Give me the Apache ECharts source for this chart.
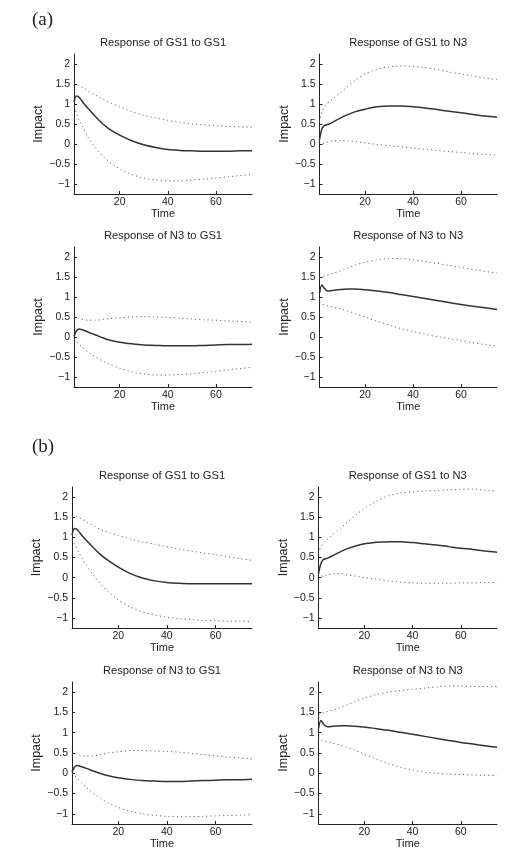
<!DOCTYPE html>
<html>
<head>
<meta charset="utf-8">
<script src="https://cdn.jsdelivr.net/npm/echarts@6/dist/echarts.min.js"></script>
<style>
  html, body { margin: 0; padding: 0; background: #fff; }
  #chart { width: 507px; height: 865px; }
</style>
</head>
<body>
<div id="chart"></div>
<script>
var time = [1, 2, 3, 4, 5, 7, 10, 13, 16, 20, 25, 30, 35, 40, 45, 50, 55, 60, 65, 70, 75];
var xTicks = [20, 40, 60];
var yTicks = [-1, -0.5, 0, 0.5, 1, 1.5, 2];

var panelTitles = [
  'Response of GS1 to GS1', 'Response of GS1 to N3',
  'Response of N3 to GS1', 'Response of N3 to N3',
  'Response of GS1 to GS1', 'Response of GS1 to N3',
  'Response of N3 to GS1', 'Response of N3 to N3'
];

// (a)
var aGG = [1.05, 1.2, 1.17, 1.1, 1.02, 0.88, 0.68, 0.5, 0.36, 0.22, 0.08, -0.02, -0.09, -0.14, -0.16, -0.17, -0.18, -0.18, -0.18, -0.17, -0.17];
var aGGup = [1.52, 1.5, 1.46, 1.43, 1.4, 1.32, 1.22, 1.12, 1.03, 0.93, 0.81, 0.72, 0.65, 0.59, 0.54, 0.5, 0.48, 0.46, 0.44, 0.43, 0.42];
var aGGlo = [0.93, 0.78, 0.62, 0.5, 0.38, 0.15, -0.1, -0.3, -0.46, -0.62, -0.76, -0.85, -0.9, -0.92, -0.92, -0.9, -0.88, -0.85, -0.82, -0.79, -0.76];

var aGN = [0.1, 0.38, 0.46, 0.48, 0.5, 0.56, 0.66, 0.74, 0.81, 0.87, 0.93, 0.95, 0.95, 0.93, 0.9, 0.86, 0.82, 0.78, 0.74, 0.7, 0.67];
var aGNup = [0.55, 0.8, 0.92, 1.0, 1.05, 1.15, 1.3, 1.45, 1.6, 1.75, 1.87, 1.93, 1.95, 1.94, 1.91, 1.86, 1.8, 1.75, 1.7, 1.65, 1.61];
var aGNlo = [0.08, 0.02, 0.02, 0.04, 0.06, 0.08, 0.09, 0.08, 0.06, 0.03, -0.01, -0.04, -0.07, -0.1, -0.13, -0.16, -0.19, -0.21, -0.24, -0.26, -0.28];

var aNG = [0.02, 0.15, 0.2, 0.19, 0.17, 0.12, 0.05, -0.02, -0.08, -0.13, -0.17, -0.2, -0.21, -0.22, -0.22, -0.22, -0.21, -0.2, -0.19, -0.19, -0.18];
var aNGup = [0.52, 0.5, 0.47, 0.45, 0.43, 0.42, 0.42, 0.44, 0.46, 0.48, 0.5, 0.51, 0.5, 0.49, 0.47, 0.45, 0.43, 0.42, 0.4, 0.39, 0.37];
var aNGlo = [-0.05, -0.1, -0.17, -0.23, -0.28, -0.38, -0.5, -0.6, -0.69, -0.78, -0.87, -0.92, -0.95, -0.95, -0.94, -0.92, -0.89, -0.86, -0.82, -0.79, -0.76];

var aNN = [1.1, 1.3, 1.22, 1.16, 1.15, 1.17, 1.19, 1.2, 1.2, 1.18, 1.15, 1.11, 1.06, 1.01, 0.96, 0.91, 0.86, 0.81, 0.77, 0.73, 0.69];
var aNNup = [1.48, 1.5, 1.52, 1.54, 1.56, 1.6, 1.66, 1.73, 1.8, 1.87, 1.93, 1.96, 1.96, 1.93, 1.89, 1.84, 1.79, 1.74, 1.69, 1.64, 1.6];
var aNNlo = [0.88, 0.82, 0.8, 0.78, 0.77, 0.74, 0.7, 0.65, 0.58, 0.5, 0.39, 0.3, 0.21, 0.14, 0.07, 0.01, -0.04, -0.09, -0.14, -0.19, -0.23];

// (b)
var bGG = [1.05, 1.22, 1.2, 1.13, 1.05, 0.92, 0.73, 0.56, 0.42, 0.26, 0.1, -0.01, -0.08, -0.12, -0.14, -0.15, -0.15, -0.15, -0.15, -0.15, -0.15];
var bGGup = [1.5, 1.53, 1.52, 1.49, 1.45, 1.38, 1.28, 1.19, 1.12, 1.05, 0.96, 0.89, 0.83, 0.77, 0.71, 0.66, 0.61, 0.57, 0.52, 0.47, 0.43];
var bGGlo = [0.95, 0.85, 0.72, 0.6, 0.5, 0.3, 0.05, -0.17, -0.35, -0.55, -0.73, -0.85, -0.93, -0.98, -1.02, -1.04, -1.06, -1.07, -1.08, -1.08, -1.09];

var bGN = [0.1, 0.35, 0.45, 0.47, 0.49, 0.55, 0.64, 0.72, 0.78, 0.84, 0.88, 0.89, 0.89, 0.87, 0.84, 0.81, 0.77, 0.73, 0.7, 0.66, 0.63];
var bGNup = [0.6, 0.78, 0.86, 0.92, 0.97, 1.07, 1.22, 1.38, 1.53, 1.72, 1.9, 2.03, 2.1, 2.13, 2.15, 2.16, 2.18, 2.19, 2.2, 2.17, 2.14];
var bGNlo = [0.12, 0.05, 0.03, 0.05, 0.07, 0.1, 0.1, 0.07, 0.04, 0.0, -0.04, -0.08, -0.11, -0.13, -0.14, -0.14, -0.14, -0.13, -0.13, -0.12, -0.12];

var bNG = [0.03, 0.15, 0.19, 0.18, 0.16, 0.12, 0.05, -0.01, -0.06, -0.11, -0.15, -0.18, -0.19, -0.2, -0.2, -0.19, -0.18, -0.17, -0.16, -0.16, -0.15];
var bNGup = [0.45, 0.5, 0.48, 0.45, 0.43, 0.42, 0.43, 0.46, 0.5, 0.53, 0.56, 0.56, 0.55, 0.54, 0.52, 0.49, 0.46, 0.43, 0.4, 0.38, 0.35];
var bNGlo = [0.0, -0.05, -0.12, -0.18, -0.24, -0.35, -0.5, -0.63, -0.73, -0.84, -0.94, -1.0, -1.04, -1.06, -1.07, -1.07, -1.06, -1.05, -1.04, -1.03, -1.02];

var bNN = [1.1, 1.3, 1.22, 1.16, 1.15, 1.16, 1.17, 1.17, 1.16, 1.14, 1.1, 1.06, 1.01, 0.96, 0.91, 0.86, 0.81, 0.76, 0.72, 0.68, 0.64];
var bNNup = [1.45, 1.47, 1.49, 1.51, 1.53, 1.56, 1.62, 1.69, 1.76, 1.85, 1.94, 2.0, 2.04, 2.07, 2.1, 2.13, 2.15, 2.15, 2.14, 2.14, 2.14];
var bNNlo = [0.9, 0.83, 0.8, 0.78, 0.77, 0.74, 0.7, 0.64, 0.57, 0.47, 0.35, 0.24, 0.15, 0.08, 0.03, 0.0, -0.02, -0.03, -0.04, -0.05, -0.05];

var panels = [
  [aGG, aGGup, aGGlo], [aGN, aGNup, aGNlo],
  [aNG, aNGup, aNGlo], [aNN, aNNup, aNNlo],
  [bGG, bGGup, bGGlo], [bGN, bGNup, bGNlo],
  [bNG, bNGup, bNGlo], [bNN, bNNup, bNNlo]
];

var font = "'Liberation Sans', Arial, sans-serif";
var serif = "'Liberation Serif', 'DejaVu Serif', serif";
// plot boxes: rows of (a) sit a bit to the right of rows of (b)
var rowLeft = [[74, 319.5], [74, 319.5], [72, 318.5], [72, 318.5]];
var rowRight = [[252, 497], [252, 497], [252, 497], [252, 497]];
var rowTop = [54, 247, 487, 682];
var rowHeight = [140, 140, 141, 142];
var titleTop = [37.5, 230.5, 470.5, 665];

function pairs(arr) {
  return time.map(function(t, i) { return [t, arr[i]]; });
}

var grids = [], xAxes = [], yAxes = [], series = [], titles = [];

for (var p = 0; p < 8; p++) {
  var row = Math.floor(p / 2), col = p % 2;
  var l = rowLeft[row][col], w = rowRight[row][col] - l;
  grids.push({ left: l, top: rowTop[row], width: w, height: rowHeight[row] });
  titles.push({
    text: panelTitles[p],
    left: l + w / 2,
    top: titleTop[row],
    textAlign: 'center',
    padding: 0,
    textStyle: { fontFamily: font, fontSize: 11.2, fontWeight: 'normal', color: '#222' }
  });
  xAxes.push({
    gridIndex: p, type: 'value', min: 1, max: 75,
    name: 'Time', nameLocation: 'middle', nameGap: 14,
    nameTextStyle: { fontFamily: font, fontSize: 11, color: '#222' },
    axisLine: { onZero: false, lineStyle: { color: '#222', width: 1 } },
    axisTick: { inside: true, length: 3, customValues: xTicks, lineStyle: { color: '#222' } },
    axisLabel: { customValues: xTicks, margin: 3, fontFamily: font, fontSize: 10.5, color: '#222' },
    splitLine: { show: false }
  });
  yAxes.push({
    gridIndex: p, type: 'value', min: -1.25, max: 2.25,
    name: 'Impact', nameLocation: 'middle', nameGap: 26,
    nameTextStyle: { fontFamily: font, fontSize: 12.5, color: '#222' },
    axisLine: { show: true, onZero: false, lineStyle: { color: '#222', width: 1 } },
    axisTick: { show: true, inside: true, length: 3, customValues: yTicks, lineStyle: { color: '#222' } },
    axisLabel: {
      customValues: yTicks, margin: 4, fontFamily: font, fontSize: 10.5, color: '#222',
      formatter: function(v) { return String(v).replace('-', '\u2212'); }
    },
    splitLine: { show: false }
  });
  var d = panels[p];
  series.push({
    type: 'line', xAxisIndex: p, yAxisIndex: p, data: pairs(d[0]),
    showSymbol: false, smooth: 0.3, silent: true, z: 3,
    lineStyle: { color: '#333', width: 1.5 }
  });
  [d[1], d[2]].forEach(function(band) {
    series.push({
      type: 'line', xAxisIndex: p, yAxisIndex: p, data: pairs(band),
      showSymbol: false, smooth: 0.3, silent: true, z: 2,
      lineStyle: { color: '#666', width: 1, type: [1.2, 3] }
    });
  });
}

titles.push({ text: '(a)', left: 32, top: 11, padding: 0,
  textStyle: { fontFamily: serif, fontSize: 19, fontWeight: 'normal', color: '#222' } });
titles.push({ text: '(b)', left: 32, top: 438, padding: 0,
  textStyle: { fontFamily: serif, fontSize: 19, fontWeight: 'normal', color: '#222' } });

var chart = echarts.init(document.getElementById('chart'), null, { renderer: 'canvas' });
chart.setOption({
  animation: false,
  backgroundColor: '#fff',
  title: titles,
  grid: grids,
  xAxis: xAxes,
  yAxis: yAxes,
  series: series
});
</script>
</body>
</html>
